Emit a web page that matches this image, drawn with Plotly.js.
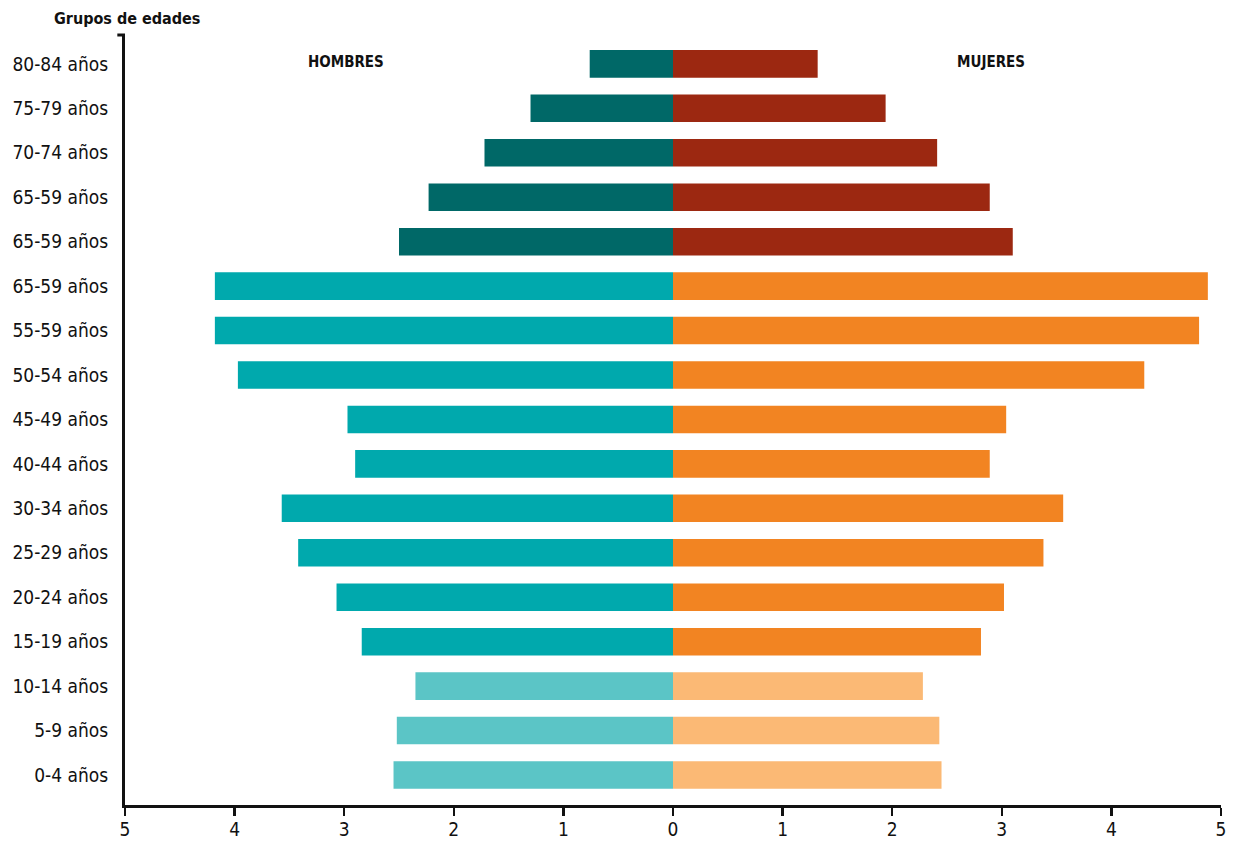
<!DOCTYPE html>
<html>
<head>
<meta charset="utf-8">
<script src="https://cdn.plot.ly/plotly-3.0.1.min.js"></script>
<style>html,body{margin:0;padding:0;background:#fff;}#chart{width:1233px;height:842px;}</style>
</head>
<body>
<div id="chart"></div>
<script>
// Age groups, bottom to top (labels as printed in the original)
const ageGroups = ["0-4 años","5-9 años","10-14 años","15-19 años","20-24 años","25-29 años","30-34 años","40-44 años","45-49 años","50-54 años","55-59 años","65-59 años","65-59 años","65-59 años","70-74 años","75-79 años","80-84 años"];
const hombres = [2.55,2.52,2.35,2.84,3.07,3.42,3.57,2.90,2.97,3.97,4.18,4.18,2.50,2.23,1.72,1.30,0.76];
const mujeres = [2.45,2.43,2.28,2.81,3.02,3.38,3.56,2.89,3.04,4.30,4.80,4.88,3.10,2.89,2.41,1.94,1.32];
// group of each row: 0 = young, 1 = adult, 2 = old
const grupo = [0,0,0,1,1,1,1,1,1,1,1,1,2,2,2,2,2];
const coloresHombres = ["#5bc5c6","#00a9ad","#006867"];
const coloresMujeres = ["#fbb975","#f28422","#9c2811"];
const xTicks = [-5,-4,-3,-2,-1,0,1,2,3,4,5];
const xTickText = ["5","4","3","2","1","0","1","2","3","4","5"];

const pos = ageGroups.map((_, i) => i);
const FONT = "'DejaVu Sans Condensed', 'Liberation Sans Narrow', sans-serif";

const traces = [
  {type:"bar", orientation:"h", y:pos, x:hombres.map(v => -v), width:0.62,
   marker:{color:grupo.map(g => coloresHombres[g]), line:{width:0}}, name:"Hombres", hoverinfo:"skip"},
  {type:"bar", orientation:"h", y:pos, x:mujeres, width:0.62,
   marker:{color:grupo.map(g => coloresMujeres[g]), line:{width:0}}, name:"Mujeres", hoverinfo:"skip"}
];

const layout = {
  width:1233, height:842,
  margin:{l:125, r:12, t:35, b:37},
  paper_bgcolor:"#fff", plot_bgcolor:"#fff",
  showlegend:false,
  barmode:"relative",
  font:{family:FONT, color:"#111", size:19},
  xaxis:{range:[-5,5], tickvals:xTicks, ticktext:xTickText, showgrid:false, zeroline:false,
         showline:true, linecolor:"#111", linewidth:3, ticks:"outside", ticklen:8, tickwidth:2.5,
         tickcolor:"#111", tickfont:{size:19, family:FONT}, ticklabelstandoff:-3, fixedrange:true},
  yaxis:{range:[-0.675,16.65], tickvals:pos, ticktext:ageGroups, showgrid:false, zeroline:false,
         showline:true, linecolor:"#111", linewidth:3, ticks:"", ticklabelstandoff:10,
         tickfont:{size:19, family:FONT}, fixedrange:true},
  shapes:[
    {type:"line", xref:"paper", yref:"paper", x0:-0.007, x1:0, y0:1, y1:1, line:{color:"#111", width:3}}
  ],
  annotations:[
    {text:"<b>Grupos de edades</b>", xref:"paper", yref:"paper", x:-0.067, y:1.0, xanchor:"left", yanchor:"bottom", yshift:5,
     showarrow:false, font:{size:16, family:FONT, color:"#111"}},
    {text:"<b>HOMBRES</b>", xref:"x", yref:"y", x:-2.98, y:16.05, showarrow:false, font:{size:15, family:FONT, color:"#111"}},
    {text:"<b>MUJERES</b>", xref:"x", yref:"y", x:2.9, y:16.05, showarrow:false, font:{size:15, family:FONT, color:"#111"}}
  ]
};

Plotly.newPlot("chart", traces, layout, {displayModeBar:false, staticPlot:true});
</script>
</body>
</html>
